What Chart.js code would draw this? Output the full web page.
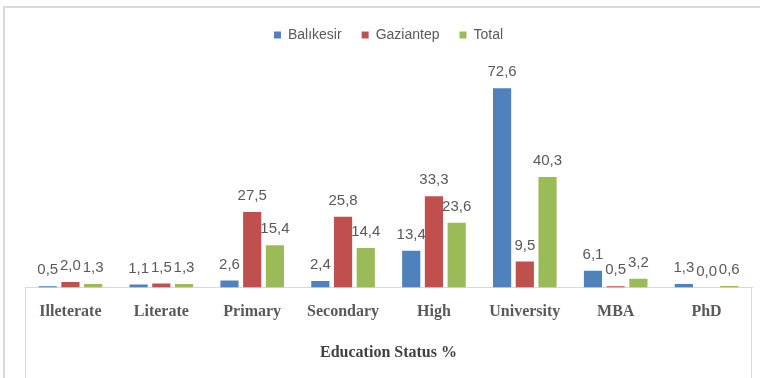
<!DOCTYPE html>
<html><head><meta charset="utf-8">
<script src="https://cdn.jsdelivr.net/npm/chart.js@4/dist/chart.umd.min.js"></script>
<style>html,body{margin:0;padding:0;background:#fff}#wrap{width:760px;height:378px;position:relative}</style>
</head><body><div id="wrap"><canvas id="c" width="760" height="378"></canvas></div>
<script>
const categories = ["Illeterate","Literate","Primary","Secondary","High","University","MBA","PhD"];
const balikesir = [0.5,1.1,2.6,2.4,13.4,72.6,6.1,1.3];
const gaziantep = [2.0,1.5,27.5,25.8,33.3,9.5,0.5,0.0];
const total = [1.3,1.3,15.4,14.4,23.6,40.3,3.2,0.6];
const seriesNames = ["Balıkesir","Gaziantep","Total"];
const axisTitle = "Education Status %";

const frame = {
  id:'frame',
  beforeDraw(chart){
    const c=chart.ctx, a=chart.chartArea;
    c.save();
    c.strokeStyle='#d9d9d9'; c.lineWidth=2;
    c.beginPath(); c.moveTo(4,378); c.lineTo(4,7); c.lineTo(760,7); c.stroke();
    c.lineWidth=1;
    c.beginPath();
    c.moveTo(a.left+0.5,a.bottom); c.lineTo(a.left+0.5,378);
    c.moveTo(a.right-0.5,a.bottom); c.lineTo(a.right-0.5,378);
    c.stroke();
    c.restore();
  }
};
const valueLabels = {
  id:'valueLabels',
  afterDatasetsDraw(chart){
    const c=chart.ctx;
    c.save();
    c.font='15px "Liberation Sans", Arial, sans-serif';
    c.fillStyle='#595959'; c.textAlign='center'; c.textBaseline='middle';
    chart.data.datasets.forEach((ds,i)=>{
      chart.getDatasetMeta(i).data.forEach((bar,j)=>{
        c.fillText(ds.data[j].toFixed(1).replace('.',','), bar.x, bar.y-16);
      });
    });
    c.restore();
  }
};
const legendHeight = {
  id:'legendHeight',
  beforeInit(chart){
    const orig = chart.legend.fit;
    chart.legend.fit = function(){ orig.call(this); this.height = 60; };
  }
};

new Chart(document.getElementById('c'),{
  type:'bar',
  data:{labels:categories,datasets:[
    {label:seriesNames[0],data:balikesir,backgroundColor:'#4F81BD',borderWidth:0},
    {label:seriesNames[1],data:gaziantep,backgroundColor:'#C0504D',borderWidth:0},
    {label:seriesNames[2],data:total,backgroundColor:'#9BBB59',borderWidth:0}
  ]},
  options:{
    responsive:false,animation:false,
    layout:{padding:{left:25,right:8,top:8,bottom:10}},
    datasets:{bar:{categoryPercentage:0.75,barPercentage:0.8}},
    plugins:{
      legend:{position:'top',labels:{boxWidth:7,boxHeight:7,padding:20,color:'#595959',font:{family:'"Liberation Sans", Arial, sans-serif',size:14}}},
      tooltip:{enabled:false}
    },
    scales:{
      y:{display:false,min:0,max:80},
      x:{
        grid:{display:false,drawTicks:false},
        border:{display:true,color:'#d9d9d9',width:1},
        ticks:{padding:15,color:'#595959',maxRotation:0,autoSkip:false,font:{family:'"Liberation Serif", "Times New Roman", serif',size:16,weight:'bold'}},
        title:{display:true,text:axisTitle,color:'#404040',padding:{top:6,bottom:6},font:{family:'"Liberation Serif", "Times New Roman", serif',size:16,weight:'bold'}}
      }
    }
  },
  plugins:[frame,valueLabels,legendHeight]
});
</script></body></html>
